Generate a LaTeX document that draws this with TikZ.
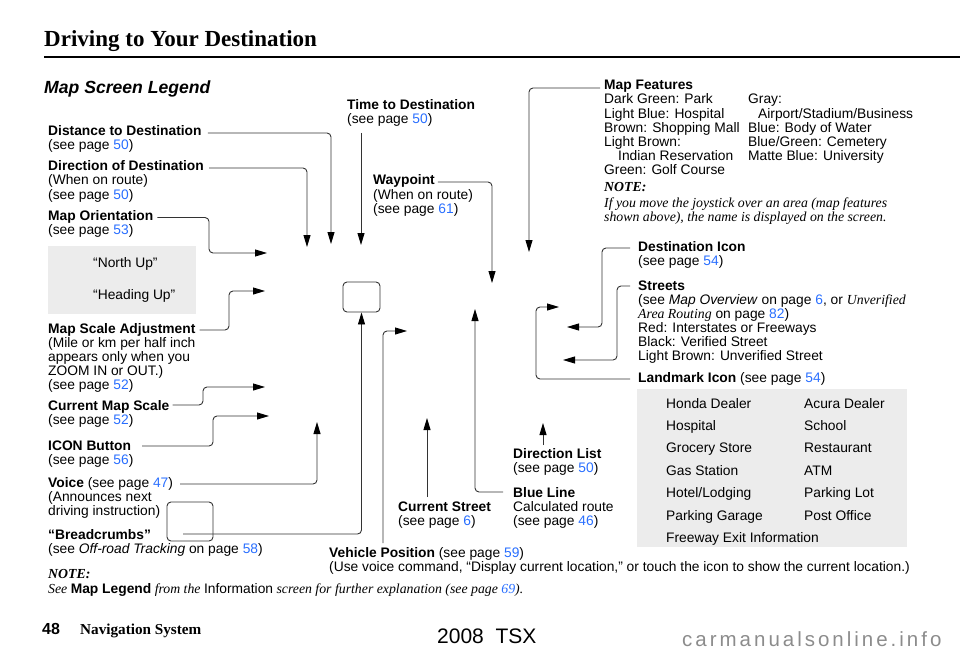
\documentclass[tikz,border=0pt]{standalone}
\usepackage{fontspec}
\setmainfont{Liberation Serif}
\setsansfont{Liberation Sans}
\newfontfamily\sitefont[LetterSpace=14.6]{Liberation Sans}
\usetikzlibrary{arrows.meta,calc,positioning}

\definecolor{pagelink}{RGB}{40,110,255}
\definecolor{boxgray}{RGB}{236,236,236}
\definecolor{sitegray}{RGB}{140,140,140}

\newcommand{\pg}[1]{\textcolor{pagelink}{#1}}
\newcommand{\bodyfont}{\sffamily\fontsize{13.8}{14}\selectfont}
\newcommand{\textlines}[1]{\begin{tabular}[t]{@{}l@{}}#1\end{tabular}}

\tikzset{
        % bold first line of a callout
        head/.style={anchor=base west, inner sep=0pt, font=\bodyfont\bfseries},
        % lines under the first one
        info/.style={anchor=base west, inner sep=0pt, font=\bodyfont},
        % Times italic notes
        serifnote/.style={anchor=base west, inner sep=0pt, font=\rmfamily\itshape\fontsize{13.8}{14}\selectfont},
        notehead/.style={anchor=base west, inner sep=0pt, font=\rmfamily\bfseries\itshape\fontsize{13.8}{14}\selectfont},
        % leader lines to the screen
        callout/.style={draw=black!80, line width=0.9pt, rounded corners=4pt, -{Triangle[length=12pt,width=7pt,color=black]}},
        % small rounded boxes
        screenbox/.style={draw=black!80, line width=0.9pt, rounded corners=4pt, inner sep=0pt},
        % shaded lists
        listbox/.style={fill=boxgray, inner sep=0pt, anchor=north west}
}

\begin{document}
\begin{tikzpicture}[x=1pt, y=-1pt]
    \useasboundingbox (0,0) rectangle (960,655);

    % page heading
    \node[anchor=base west, inner sep=0pt, font=\rmfamily\bfseries\fontsize{23}{27}\selectfont] (title) at (44,47) {Driving to Your Destination};
    \draw[line width=2pt] ([yshift=-10.3pt]title.base west) -- ++(916,0);
    \node[anchor=base west, inner sep=0pt, font=\sffamily\bfseries\itshape\fontsize{17.6}{20}\selectfont] (legend) at (44,94) {Map Screen Legend};

    % arrow ends on the screen
    \coordinate (dist-tip) at (331,244);
    \coordinate (dir-tip) at (307,247);
    \coordinate (orient-tip) at (267,253);
    \coordinate (heading-tip) at (265,291);
    \coordinate (scale-tip) at (265,387);
    \coordinate (icon-tip) at (269,416);
    \coordinate (voice-tip) at (317,422);
    \coordinate (time-tip) at (361,245);
    \coordinate (way-tip) at (492,283);
    \coordinate (feat-tip) at (529,252);
    \coordinate (dest-tip) at (567,327);
    \coordinate (street-tip) at (563,360);
    \coordinate (mark-tip) at (559,307);
    \coordinate (list-tip) at (543,423);
    \coordinate (blue-tip) at (475,309);
    \coordinate (cur-tip) at (427,418);
    \coordinate (vehicle-tip) at (407,331);

    % boxes
    \node[listbox, minimum width=148pt, minimum height=68pt] (orientbox) at (48,246) {};
    \node[listbox, minimum width=270pt, minimum height=158pt] (markbox) at (637,389) {};
    \node[screenbox, minimum width=37pt, minimum height=30pt] (iconbox) at (361.5,297) {};
    \node[screenbox, minimum width=46pt, minimum height=39pt] (crumbbox) at (190,521.5) {};

    % left column
    \node[head] (dist) at (48,136) {Distance to Destination};
    \node[info] (dist-ref) at ([yshift=-14pt]dist.base west) {(see page \pg{50})};
    \node[head] (dir) at (48,171) {Direction of Destination};
    \node[info] (dir-ref) at ([yshift=-14pt]dir.base west) {\textlines{(When on route)\\(see page \pg{50})}};
    \node[head] (orient) at (48,220) {Map Orientation};
    \node[info] (orient-ref) at ([yshift=-14pt]orient.base west) {(see page \pg{53})};
    \node[info] (northup) at (93,267) {“North Up”};
    \node[info] (headup) at (93,299) {“Heading Up”};
    \node[head] (scaleadj) at (48,333) {Map Scale Adjustment};
    \node[info] (scaleadj-ref) at ([yshift=-14pt]scaleadj.base west) {\textlines{(Mile or km per half inch\\appears only when you\\ZOOM IN or OUT.)\\(see page \pg{52})}};
    \node[head] (curscale) at (48,410) {Current Map Scale};
    \node[info] (curscale-ref) at ([yshift=-14pt]curscale.base west) {(see page \pg{52})};
    \node[head] (iconbtn) at (48,450) {ICON Button};
    \node[info] (iconbtn-ref) at ([yshift=-14pt]iconbtn.base west) {(see page \pg{56})};
    \node[head] (voice) at (48,487) {Voice{\mdseries\ (see page \pg{47})}};
    \node[info] (voice-ref) at ([yshift=-14pt]voice.base west) {\textlines{(Announces next\\driving instruction)}};
    \node[head] (crumbs) at (48,539) {“Breadcrumbs”};
    \node[info] (crumbs-ref) at ([yshift=-14pt]crumbs.base west) {(see \textit{Off-road Tracking} on page \pg{58})};
    \node[notehead] (note) at (48,578) {NOTE:};
    \node[serifnote] (note-txt) at ([yshift=-15pt]note.base west) {See \textsf{\bfseries\upshape Map Legend} from the \textsf{\upshape Information} screen for further explanation (see page \pg{69}).};

    % top middle
    \node[head] (time) at (347,110) {Time to Destination};
    \node[info] (time-ref) at ([yshift=-14pt]time.base west) {(see page \pg{50})};
    \node[head] (waypoint) at (373,185) {Waypoint};
    \node[info] (waypoint-ref) at ([yshift=-14pt]waypoint.base west) {\textlines{(When on route)\\(see page \pg{61})}};

    % right column
    \node[head] (mapfeat) at (604,90) {Map Features};
    \node[info] (mapfeat-list) at ([yshift=-14pt]mapfeat.base west) {\begin{tabular}[t]{@{}p{144pt}@{}l@{}}
        Dark Green: Park & Gray:\\
        Light Blue: Hospital & \hspace*{10pt}Airport/Stadium/Business\\
        Brown: Shopping Mall & Blue: Body of Water\\
        Light Brown: & Blue/Green: Cemetery\\
        \hspace*{14pt}Indian Reservation & Matte Blue: University\\
        Green: Golf Course &
    \end{tabular}};
    \node[notehead] (feat-note) at (604,192) {NOTE:};
    \node[serifnote] (feat-note-txt) at ([yshift=-15pt]feat-note.base west) {\textlines{If you move the joystick over an area (map features\\shown above), the name is displayed on the screen.}};
    \node[head] (desticon) at (638,251) {Destination Icon};
    \node[info] (desticon-ref) at ([yshift=-14pt]desticon.base west) {(see page \pg{54})};
    \node[head] (streets) at (638,290) {Streets};
    \node[info] (streets-ref) at ([yshift=-14pt]streets.base west) {\textlines{(see \textit{Map Overview} on page \pg{6}, or {\rmfamily\itshape Unverified}\\{\rmfamily\itshape Area Routing} on page \pg{82})\\Red: Interstates or Freeways\\Black: Verified Street\\Light Brown: Unverified Street}};
    \node[head] (landmark) at (638,382) {Landmark Icon{\mdseries\ (see page \pg{54})}};
    \node[info] (marks) at (666,408) {\renewcommand{\arraystretch}{1.6}\begin{tabular}[t]{@{}p{138pt}@{}l@{}}
        Honda Dealer & Acura Dealer\\
        Hospital & School\\
        Grocery Store & Restaurant\\
        Gas Station & ATM\\
        Hotel/Lodging & Parking Lot\\
        Parking Garage & Post Office\\
        \multicolumn{2}{@{}l@{}}{Freeway Exit Information}
    \end{tabular}};

    % bottom middle
    \node[head] (dirlist) at (513,458) {Direction List};
    \node[info] (dirlist-ref) at ([yshift=-14pt]dirlist.base west) {(see page \pg{50})};
    \node[head] (blueline) at (513,497) {Blue Line};
    \node[info] (blueline-ref) at ([yshift=-14pt]blueline.base west) {\textlines{Calculated route\\(see page \pg{46})}};
    \node[head] (curstreet) at (398,511) {Current Street};
    \node[info] (curstreet-ref) at ([yshift=-14pt]curstreet.base west) {(see page \pg{6})};
    \node[head] (vehicle) at (329,557) {Vehicle Position{\mdseries\ (see page \pg{59})}};
    \node[info] (vehicle-ref) at ([yshift=-14pt]vehicle.base west) {(Use voice command, “Display current location,” or touch the icon to show the current location.)};

    % footer
    \node[anchor=base west, inner sep=0pt, font=\sffamily\bfseries\fontsize{16}{18}\selectfont] (pageno) at (42,634) {48};
    \node[anchor=base west, inner sep=0pt, font=\rmfamily\bfseries\fontsize{15.2}{18}\selectfont] (section) at (80,634) {Navigation System};
    \node[anchor=base west, inner sep=0pt, font=\sffamily\fontsize{21}{24}\selectfont] (model) at (437,643) {2008\ \ TSX};
    \node[anchor=base west, inner sep=0pt, text=sitegray, font=\sitefont\fontsize{20.5}{24}\selectfont] (site) at (682,646) {carmanualsonline.info};

    % leaders, left
    \draw[callout] ([xshift=6pt,yshift=3pt]dist.base east) -| (dist-tip);
    \draw[callout] ([xshift=5pt,yshift=3pt]dir.base east) -| (dir-tip);
    \draw[callout] ([xshift=4pt,yshift=2.5pt]orient.base east) -| ($(orient-tip)+(-58,0)$) -- (orient-tip);
    \draw[callout] ([xshift=4pt,yshift=3pt]scaleadj.base east) -| ($(heading-tip)+(-36,0)$) -- (heading-tip);
    \draw[callout] ([xshift=3pt,yshift=5pt]curscale.base east) -| ($(scale-tip)+(-62,0)$) -- (scale-tip);
    \draw[callout] ([xshift=11pt,yshift=4pt]iconbtn.base east) -| ($(icon-tip)+(-56,0)$) -- (icon-tip);
    \draw[callout] ([xshift=7pt,yshift=3pt]voice.base east) -| (voice-tip);
    \draw[callout] ($(crumbbox.center)+(-7,12.5)$) -| (iconbox.south);

    % leaders, top
    \draw[callout] ($(time-ref.base west)+(14,9)$) -- (time-tip);
    \draw[callout] ([xshift=3pt,yshift=3pt]waypoint.base east) -| (way-tip);
    \draw[callout] ([xshift=-4pt,yshift=2pt]mapfeat.base west) -| (feat-tip);

    % leaders, right
    \draw[callout] ([xshift=-8pt,yshift=3pt]desticon.base west) -| ($(dest-tip)+(35,0)$) -- (dest-tip);
    \draw[callout] ([xshift=-8pt,yshift=4pt]streets.base west) -| ($(street-tip)+(54,0)$) -- (street-tip);
    \draw[callout] ([xshift=-8pt,yshift=3pt]landmark.base west) -| ($(mark-tip)+(-23,0)$) -- (mark-tip);

    % leaders, bottom
    \draw[callout] ($(dirlist.base west)+(30,-13)$) -- (list-tip);
    \draw[callout] ([xshift=-10pt,yshift=5pt]blueline.base west) -| (blue-tip);
    \draw[callout] ($(curstreet.base west)+(29,-14)$) -- (cur-tip);
    \draw[callout] ($(vehicle.base west)+(54,-14)$) |- (vehicle-tip);
\end{tikzpicture}
\end{document}
